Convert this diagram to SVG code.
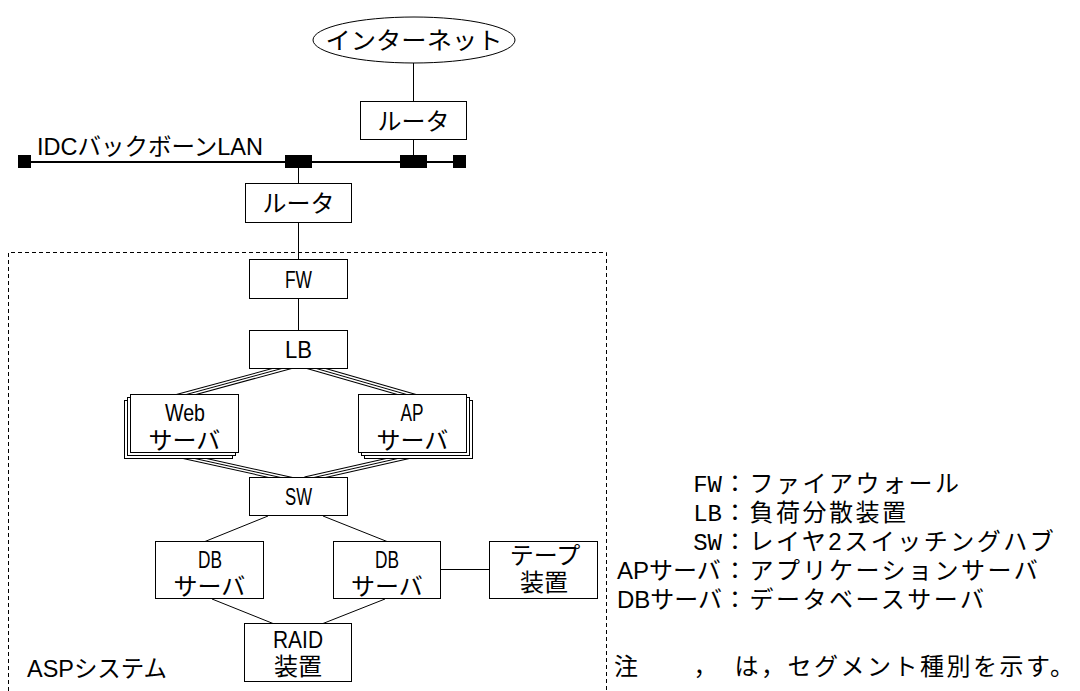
<svg xmlns="http://www.w3.org/2000/svg" width="1080" height="691" viewBox="0 0 1080 691">
<style>
.box{fill:#fff;stroke:#000;stroke-width:1}
.ln{stroke:#000;stroke-width:1;fill:none}
.t{font-family:"Liberation Sans","Noto Sans CJK JP",sans-serif;font-size:24px;fill:#000}
.c{text-anchor:middle}
.tro{stroke:#000;stroke-width:6;fill:none}
.trw{stroke:#fff;stroke-width:4;fill:none}
.trc{stroke:#000;stroke-width:1;fill:none}
.lg{font-family:"Liberation Sans","Noto Sans CJK JP",sans-serif;font-size:24px;fill:#000}
.mono{font-family:"Liberation Mono","Noto Sans CJK JP",monospace}
</style>
<rect width="1080" height="691" fill="#fff"/>

<g id="asp-system">
<path d="M8.5,691 V252.5 H606.5 V691" fill="none" stroke="#000" stroke-width="1" stroke-dasharray="4,3"/>
<text class="t" x="27" y="677" textLength="140" lengthAdjust="spacingAndGlyphs">ASPシステム</text>
</g>

<g id="connectors">
<line class="ln" x1="413.5" y1="62" x2="413.5" y2="101.5"/>
<line class="ln" x1="413.5" y1="139.5" x2="413.5" y2="156"/>
<line class="ln" x1="298.5" y1="167" x2="298.5" y2="183.5"/>
<line class="ln" x1="298.5" y1="222.5" x2="298.5" y2="259.5"/>
<line class="ln" x1="298.5" y1="298.5" x2="298.5" y2="330.5"/>
<g id="triple-lines">
<path class="tro" d="M291,366 L177,397 M307.6,366 L415.4,397 M170,453 L292,480 M422,453 L305,479.5"/>
<path class="trw" d="M291,366 L177,397 M307.6,366 L415.4,397 M170,453 L292,480 M422,453 L305,479.5"/>
<path class="trc" d="M291,366 L177,397 M307.6,366 L415.4,397 M170,453 L292,480 M422,453 L305,479.5"/>
</g>
<line class="ln" x1="268" y1="516" x2="205" y2="541.5"/>
<line class="ln" x1="323" y1="516" x2="387" y2="541.5"/>
<line class="ln" x1="212" y1="599" x2="273" y2="623.5"/>
<line class="ln" x1="385" y1="599" x2="323" y2="623.5"/>
<line class="ln" x1="441" y1="569.5" x2="489.5" y2="569.5"/>
</g>

<g id="backbone-lan">
<line x1="31" y1="162" x2="453" y2="162" stroke="#000" stroke-width="2"/>
<rect x="18" y="155" width="13" height="13" fill="#000"/>
<rect x="285" y="155" width="27" height="13" fill="#000"/>
<rect x="400" y="155" width="27" height="13" fill="#000"/>
<rect x="453" y="155" width="13" height="13" fill="#000"/>
<text class="t" x="37" y="155" textLength="226" lengthAdjust="spacingAndGlyphs">IDCバックボーンLAN</text>
</g>

<g id="internet">
<ellipse cx="414" cy="40" rx="101" ry="23" fill="#fff" stroke="#000" stroke-width="1"/>
<text class="t c" x="414" y="49" textLength="177" lengthAdjust="spacingAndGlyphs">インターネット</text>
</g>

<g id="router1">
<rect class="box" x="360.5" y="101.5" width="106" height="38"/>
<text class="t c" x="413.5" y="130">ルータ</text>
</g>

<g id="router2">
<rect class="box" x="245.5" y="183.5" width="106" height="39"/>
<text class="t c" x="298.5" y="212">ルータ</text>
</g>

<g id="fw">
<rect class="box" x="249.5" y="259.5" width="98" height="39"/>
<text class="t c" x="298.5" y="288" textLength="27" lengthAdjust="spacingAndGlyphs">FW</text>
</g>

<g id="lb">
<rect class="box" x="249.5" y="330.5" width="98" height="38"/>
<text class="t c" x="298.5" y="358" textLength="27" lengthAdjust="spacingAndGlyphs">LB</text>
</g>

<g id="web-server">
<rect class="box" x="124.5" y="400.5" width="108" height="58"/>
<rect class="box" x="127.5" y="397.5" width="108" height="58"/>
<rect class="box" x="130.5" y="394.5" width="108" height="58"/>
<text class="t c"><tspan x="185" y="421" textLength="40" lengthAdjust="spacingAndGlyphs">Web</tspan><tspan x="184.5" y="448.5">サーバ</tspan></text>
</g>

<g id="ap-server">
<rect class="box" x="364.5" y="400.5" width="108" height="58"/>
<rect class="box" x="361.5" y="397.5" width="108" height="58"/>
<rect class="box" x="358.5" y="394.5" width="108" height="58"/>
<text class="t c"><tspan x="412" y="421" textLength="23" lengthAdjust="spacingAndGlyphs">AP</tspan><tspan x="412.5" y="448.5">サーバ</tspan></text>
</g>

<g id="sw">
<rect class="box" x="249.5" y="477.5" width="98" height="38"/>
<text class="t c" x="298.5" y="505" textLength="27" lengthAdjust="spacingAndGlyphs">SW</text>
</g>

<g id="db-server1">
<rect class="box" x="155.5" y="541.5" width="108" height="57"/>
<text class="t c"><tspan x="210" y="567.5" textLength="24" lengthAdjust="spacingAndGlyphs">DB</tspan><tspan x="209.5" y="595">サーバ</tspan></text>
</g>

<g id="db-server2">
<rect class="box" x="333.5" y="541.5" width="107" height="57"/>
<text class="t c"><tspan x="387" y="567.5" textLength="24" lengthAdjust="spacingAndGlyphs">DB</tspan><tspan x="387" y="595">サーバ</tspan></text>
</g>

<g id="tape">
<rect class="box" x="489.5" y="541.5" width="108" height="57"/>
<text class="t c"><tspan x="545" y="563.5">テープ</tspan><tspan x="544" y="591">装置</tspan></text>
</g>

<g id="raid">
<rect class="box" x="244.5" y="623.5" width="107" height="58"/>
<text class="t c"><tspan x="298" y="647.5" textLength="50" lengthAdjust="spacingAndGlyphs">RAID</tspan><tspan x="298" y="675">装置</tspan></text>
</g>

<g id="legend">
<text class="lg" y="492"><tspan class="mono" x="722" text-anchor="end">FW</tspan><tspan x="723" letter-spacing="2.5">：ファイアウォール</tspan></text>
<text class="lg" y="521"><tspan class="mono" x="722" text-anchor="end">LB</tspan><tspan x="723" letter-spacing="2.5">：負荷分散装置</tspan></text>
<text class="lg" y="550"><tspan class="mono" x="722" text-anchor="end">SW</tspan><tspan x="723" letter-spacing="2.5">：レイヤ2スイッチングハブ</tspan></text>
<text class="lg" y="579"><tspan x="617">APサーバ</tspan><tspan x="723" letter-spacing="2.5">：アプリケーションサーバ</tspan></text>
<text class="lg" y="608"><tspan x="617">DBサーバ</tspan><tspan x="723" letter-spacing="2.5">：データベースサーバ</tspan></text>
<text class="lg" x="614" y="675" letter-spacing="2.5">注　　，　は，セグメント種別を示す。</text>
</g>
</svg>
